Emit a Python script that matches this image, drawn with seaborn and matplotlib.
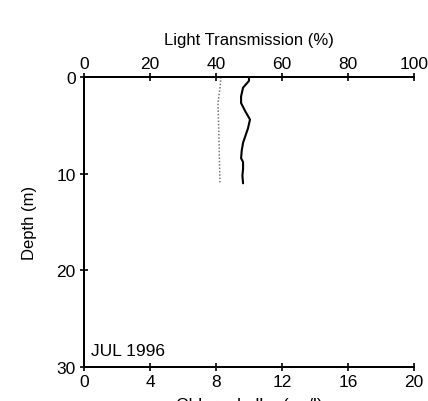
import matplotlib
matplotlib.use("Agg")
import matplotlib.pyplot as plt
import seaborn as sns
import pandas as pd

# data
trans_depth = [0.0, 0.4, 1.1, 2.0, 2.7, 3.5, 4.4, 5.3, 6.0, 6.8, 7.6, 8.4, 8.8, 9.5, 10.2, 11.0]
trans_vals = [50.0, 50.0, 48.2, 47.6, 47.6, 48.8, 50.3, 49.7, 49.0, 48.2, 47.8, 47.6, 48.2, 48.2, 48.0, 48.2]
chl_depth = [0.0, 1.0, 2.7, 4.5, 6.2, 8.0, 9.5, 10.9]
chl_vals = [8.3, 8.25, 8.12, 8.15, 8.18, 8.2, 8.22, 8.24]

top_ticks = [0, 20, 40, 60, 80, 100]
bottom_ticks = [0, 4, 8, 12, 16, 20]
depth_ticks = [0, 10, 20, 30]

sns.set_style("white")
plt.rcParams['font.family'] = ['Liberation Sans', 'DejaVu Sans']
plt.rcParams['text.color'] = 'black'
plt.rcParams['axes.labelcolor'] = 'black'
plt.rcParams['xtick.color'] = 'black'
plt.rcParams['ytick.color'] = 'black'

fig = plt.figure(figsize=(4.28, 4.02), dpi=100)
ax = fig.add_axes([84/428, 1 - 368/402, 330/428, 290/402])
axt = ax.twiny()

df_t = pd.DataFrame({"depth": trans_depth, "val": trans_vals})
df_c = pd.DataFrame({"depth": chl_depth, "val": chl_vals})

sns.lineplot(data=df_c, x="val", y="depth", sort=False, estimator=None,
             ax=ax, color="#777777", linestyle=(0, (1, 1.2)), linewidth=1.1)
sns.lineplot(data=df_t, x="val", y="depth", sort=False, estimator=None,
             ax=axt, color="black", linewidth=1.5)

ax.set_xlim(0, 20)
ax.set_ylim(30, 0)
axt.set_xlim(0, 100)
axt.set_ylim(30, 0)

ax.set_xticks(bottom_ticks)
ax.set_xticklabels([str(t) for t in bottom_ticks])
ax.set_yticks(depth_ticks)
ax.set_yticklabels([str(t) for t in depth_ticks])
axt.set_xticks(top_ticks)
axt.set_xticklabels([str(t) for t in top_ticks])

for a in (ax, axt):
    for s in ["left", "top", "bottom"]:
        a.spines[s].set_visible(True)
        a.spines[s].set_color("black")
        a.spines[s].set_linewidth(1.3)
    a.spines["right"].set_visible(False)
    a.tick_params(direction="inout", length=6, width=1.2, color="black",
                  labelcolor="black", labelsize=12.5, pad=1)
ax.tick_params(axis="x", bottom=True, top=False, pad=2)
ax.tick_params(axis="y", left=True, right=False, pad=3)
axt.tick_params(axis="x", top=True, bottom=False, pad=1)
axt.tick_params(axis="y", left=False, right=False, labelleft=False, labelright=False)

ax.set_ylabel("Depth (m)", fontsize=12, labelpad=14, color="black")
ax.set_xlabel("Chlorophyll a (\u00b5g/l)", fontsize=12.5, labelpad=6, color="black")
axt.set_xlabel("Light Transmission (%)", fontsize=12, labelpad=9, color="black")

ax.text(0.45, 29.1, "JUL 1996", fontsize=12.5, ha="left", va="bottom", color="black")

fig.savefig("out.png", dpi=100)
